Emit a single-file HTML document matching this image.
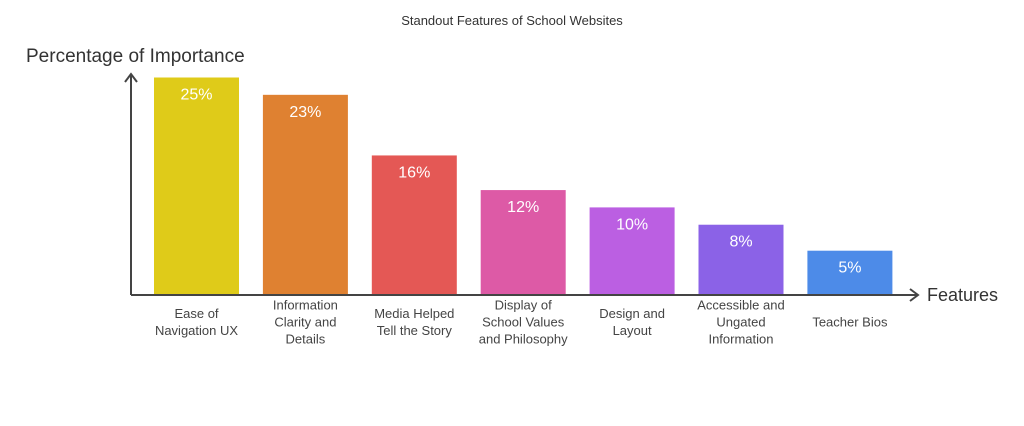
<!DOCTYPE html>
<html><head><meta charset="utf-8"><style>
body{margin:0;background:#fff;width:1024px;height:426px;overflow:hidden;font-family:"Liberation Sans",sans-serif}
svg{display:block}
</style></head><body>
<svg width="1024" height="426">
<text x="512" y="25" text-anchor="middle" font-size="13" fill="#333">Standout Features of School Websites</text>
<text x="26" y="62" font-size="19" fill="#333">Percentage of Importance</text>
<text x="927" y="301" font-size="18" fill="#333">Features</text>
<g stroke="#444" stroke-width="2" fill="none">
<path d="M131 295 V75 M125 82 L131 74 L137 82"/>
<path d="M131 295 H917 M910 289 L918 295 L910 301"/>
</g>
<g id="bars"></g>
</svg>
<script>
const categories=[["Ease of","Navigation UX"],["Information","Clarity and","Details"],["Media Helped","Tell the Story"],["Display of","School Values","and Philosophy"],["Design and","Layout"],["Accessible and","Ungated","Information"],["Teacher Bios"]];
const values=[25,23,16,12,10,8,5];
const valueLabels=["25%","23%","16%","12%","10%","8%","5%"];
const colors=["#dfcb19","#df8131","#e45855","#dd5aa6","#bb5fe2","#8b62e7","#4d8be8"];
const NS="http://www.w3.org/2000/svg";
const g=document.getElementById("bars");
const base=294,scale=8.66;
function xPos(i){return 154+i*108.9;}
function yPos(v){return base-v*scale;}
values.forEach((v,i)=>{
 const r=document.createElementNS(NS,"rect");
 
 
 r.setAttribute("x",xPos(i));r.setAttribute("y",yPos(v));
 r.setAttribute("width",85);r.setAttribute("height",base-yPos(v));
 r.setAttribute("fill",colors[i]);g.appendChild(r);
 const t=document.createElementNS(NS,"text");
 
 
 t.setAttribute("x",xPos(i)+42.5);t.setAttribute("y",yPos(v)+22);
 t.setAttribute("text-anchor","middle");t.setAttribute("font-size","16");t.setAttribute("fill","#fff");
 t.textContent=valueLabels[i];g.appendChild(t);
 const lines=categories[i];
 const y0=322-(lines.length-1)*8.5+4.5;
 lines.forEach((ln,j)=>{
  const c=document.createElementNS(NS,"text");
  
  
  c.setAttribute("x",xPos(i)+42.5);c.setAttribute("y",y0+j*17);
  c.setAttribute("text-anchor","middle");c.setAttribute("font-size","13");c.setAttribute("fill","#444");
  c.textContent=ln;g.appendChild(c);
 });
});
</script>
</body></html>
